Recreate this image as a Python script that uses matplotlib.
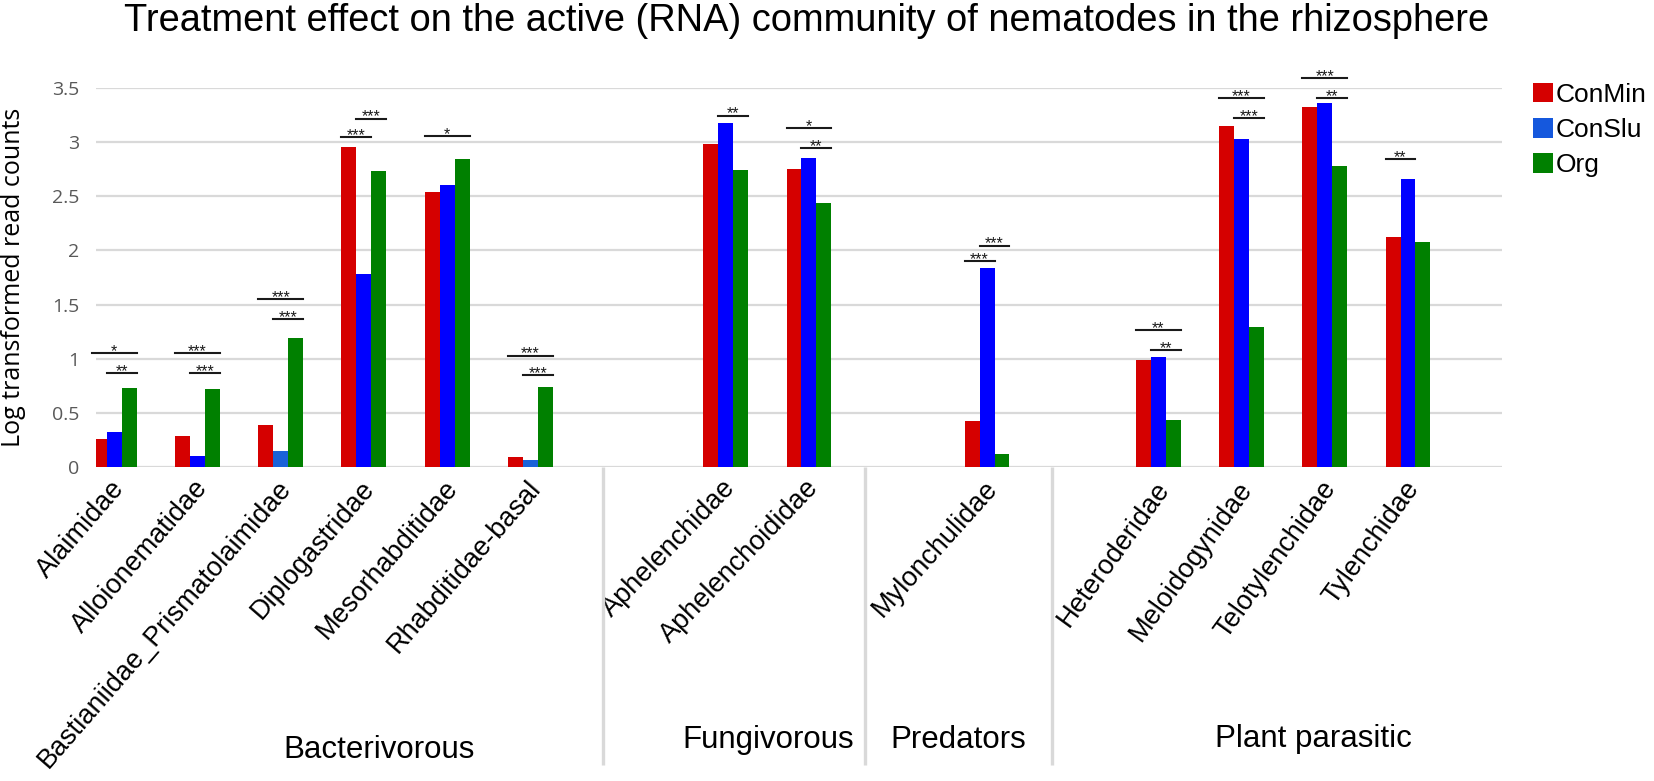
import matplotlib
matplotlib.use("Agg")
import matplotlib.pyplot as plt
import matplotlib.transforms as mtransforms
from matplotlib.patches import Patch
import numpy as np

# ---------------- data ----------------
categories = ["Alaimidae", "Alloionematidae", "Bastianiidae_Prismatolaimidae",
              "Diplogastridae", "Mesorhabditidae", "Rhabditidae-basal",
              "Aphelenchidae", "Aphelenchoididae",
              "Mylonchulidae",
              "Heteroderidae", "Meloidogynidae", "Telotylenchidae", "Tylenchidae"]
groups = ["Bacterivorous", "Fungivorous", "Predators", "Plant parasitic"]
group_sizes = [6, 2, 1, 4]
series_names = ["ConMin", "ConSlu", "Org"]
conmin = [0.26, 0.285, 0.39, 2.956, 2.535, 0.098, 2.984, 2.753, 0.424, 0.989, 3.150, 3.319, 2.123]
conslu = [0.328, 0.108, 0.150, 1.779, 2.600, 0.067, 3.174, 2.855, 1.838, 1.020, 3.030, 3.362, 2.661]
org = [0.728, 0.722, 1.195, 2.732, 2.840, 0.743, 2.741, 2.434, 0.123, 0.436, 1.291, 2.781, 2.080]

# significance brackets: category index, from-series, to-series, height, label
sig_cat = [0, 0, 1, 1, 2, 2, 3, 3, 4, 5, 5, 6, 7, 7, 8, 8, 9, 9, 10, 10, 11, 11, 12]
sig_from = [0, 1, 0, 1, 0, 1, 0, 1, 0, 0, 1, 1, 0, 1, 1, 0, 0, 1, 0, 1, 0, 1, 0]
sig_to = [2, 2, 2, 2, 2, 2, 1, 2, 2, 2, 2, 2, 2, 2, 2, 1, 2, 2, 2, 2, 2, 2, 1]
sig_y = [1.051, 0.867, 1.051, 0.865, 1.549, 1.364, 3.043, 3.214, 3.055, 1.029, 0.848,
         3.242, 3.125, 2.941, 2.043, 1.899, 1.263, 1.079, 3.402, 3.218, 3.587, 3.402, 2.840]
sig_text = ["*", "**", "***", "***", "***", "***", "***", "***", "*", "***", "***",
            "**", "*", "**", "***", "***", "**", "**", "***", "***", "***", "**", "**"]

y_ticks = [0, 0.5, 1, 1.5, 2, 2.5, 3, 3.5]
y_ticklabels = ["0", "0.5", "1", "1.5", "2", "2.5", "3", "3.5"]

# ---------------- layout / style ----------------
W, H = 1654, 781
red, blue, green = "#D50000", "#0000FF", "#008000"
light_blue = "#1A62D8"
legend_colors = [red, "#1558DD", green]
series_colors = [
    [red] * len(categories),
    [light_blue if i in (2, 5) else blue for i in range(len(categories))],
    [green] * len(categories),
]
group_starts = [-0.05, 7.30, 10.44, 12.50]
separators = [5.82, 8.97, 11.22]
group_label_x = [3.13, 7.81, 10.09, 14.36]
group_label_y = [-0.766, -0.74, -0.74, -0.737]
group_label_rot = [49, 46, 48, 54]
bw = 0.18

x = np.concatenate([s + np.arange(n) for s, n in zip(group_starts, group_sizes)])
label_rot = np.repeat(group_label_rot, group_sizes)

fig = plt.figure(figsize=(W / 100, H / 100), dpi=100)
ax = fig.add_axes([96 / W, (H - 467.3) / H, 1406 / W, 379.6 / H])

for i, vals in enumerate([conmin, conslu, org]):
    ax.bar(x + (i - 1) * bw, vals, width=bw, color=series_colors[i], zorder=2,
           label=series_names[i])

ax.set_xlim(-0.27, 16.63)
ax.set_ylim(0, 3.5)
ax.set_axisbelow(True)
ax.grid(axis="y", color="#D9D9D9", lw=1.6)
for s in ax.spines.values():
    s.set_visible(False)

ax.set_yticks(y_ticks)
ax.set_yticklabels(y_ticklabels, fontsize=14, color="#595959", family="Open Sans")
ax.tick_params(axis="y", length=0, pad=12)

ax.set_xticks(x)
ax.set_xticklabels(categories, ha="right", va="center",
                   rotation_mode="anchor", fontsize=19.5, family="Liberation Sans")
ax.tick_params(axis="x", length=0, pad=12)
shift = mtransforms.ScaledTranslation(6 / 100, 0, fig.dpi_scale_trans)
for lab, r in zip(ax.get_xticklabels(), label_rot):
    lab.set_rotation(r)
    lab.set_transform(lab.get_transform() + shift)

trans = ax.get_xaxis_transform()
for sx in separators:
    ax.plot([sx, sx], [0, -0.784], transform=trans, color="#D9D9D9", lw=2.4,
            clip_on=False, solid_capstyle="butt")
for gx, gy, g in zip(group_label_x, group_label_y, groups):
    ax.text(gx, gy, g, transform=trans, ha="center", va="baseline",
            fontsize=22.5, family="Liberation Sans")

# significance brackets
for c, a, b, y, t in zip(sig_cat, sig_from, sig_to, sig_y, sig_text):
    x1 = x[c] + (a - 1) * bw - bw / 2
    x2 = x[c] + (b - 1) * bw + bw / 2
    ax.plot([x1, x2], [y, y], color="#1a1a1a", lw=1.5, clip_on=False, zorder=3)
    ax.annotate(t, ((x1 + x2) / 2, y), xytext=(0, -2), textcoords="offset points",
                ha="center", va="baseline", fontsize=11.5,
                family="Liberation Sans", color="#1a1a1a", annotation_clip=False)

# legend
handles = [Patch(facecolor=c, edgecolor="none") for c in legend_colors]
fig.legend(handles, series_names, loc="upper left",
           bbox_to_anchor=(1533 / W, (H - 83) / H), frameon=False,
           prop={"family": "Liberation Sans", "size": 19},
           handlelength=0.75, handleheight=0.75, handletextpad=0.12,
           labelspacing=0.42, borderpad=0, borderaxespad=0)

fig.text(807 / W, (H - 31) / H,
         "Treatment effect on the active (RNA) community of nematodes in the rhizosphere",
         ha="center", va="baseline", fontsize=27.4, family="Liberation Sans")
fig.text(14 / W, (H - 277.5) / H, "Log transformed read counts", rotation=90,
         ha="center", va="center", fontsize=18, family="Open Sans")

fig.savefig("out.png", dpi=100, facecolor="white")
